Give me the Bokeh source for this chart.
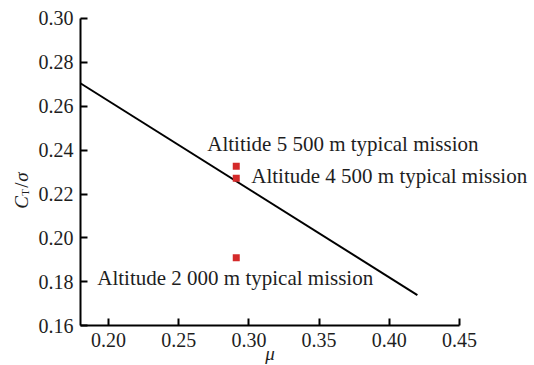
import math
from bokeh.plotting import figure
from bokeh.models import Range1d, FixedTicker, NumeralTickFormatter, Label, LinearAxis
from bokeh.embed import file_html
from bokeh.resources import INLINE

# data
line_mu = [0.18, 0.42]
line_ct = [0.2705, 0.174]
pt_mu = [0.291, 0.291, 0.291]
pt_ct = [0.2327, 0.2272, 0.1910]
labels = ["Altitide 5 500 m typical mission",
          "Altitude 4 500 m typical mission",
          "Altitude 2 000 m typical mission"]
x_ticks = [0.20, 0.25, 0.30, 0.35, 0.40, 0.45]
y_ticks = [0.16, 0.18, 0.20, 0.22, 0.24, 0.26, 0.28, 0.30]

FONT = "Liberation Serif"
TXT = "#1e1e1e"

W, H = 534, 365
# visible data window (whole canvas is the plotting frame, axes sit inside it)
XR = (0.1231, 0.5034)
YR = (0.1419, 0.3082)

p = figure(width=W, height=H, output_backend="svg", toolbar_location=None,
           x_range=Range1d(*XR), y_range=Range1d(*YR),
           x_axis_location=None, y_axis_location=None, min_border=0)
p.outline_line_color = None
p.grid.visible = False
p.background_fill_color = "white"
p.border_fill_color = "white"

xaxis = LinearAxis(fixed_location=y_ticks[0], bounds=(0.18, 0.45),
                   ticker=FixedTicker(ticks=x_ticks))
yaxis = LinearAxis(fixed_location=0.18, bounds=(y_ticks[0], y_ticks[-1]),
                   ticker=FixedTicker(ticks=y_ticks))
for ax in (xaxis, yaxis):
    ax.major_label_text_font = FONT
    ax.major_label_text_font_size = "20px"
    ax.major_label_text_color = TXT
    ax.axis_line_width = 2
    ax.major_tick_line_width = 2
    ax.axis_line_color = "black"
    ax.major_tick_line_color = "black"
    ax.minor_tick_line_color = None
    ax.major_tick_in = 7
    ax.major_tick_out = 0
    ax.formatter = NumeralTickFormatter(format="0.00")
xaxis.major_label_standoff = 7
yaxis.major_label_standoff = 7
p.add_layout(xaxis, "below")
p.add_layout(yaxis, "left")

p.line(line_mu, line_ct, line_color="black", line_width=2)
p.scatter(pt_mu, pt_ct, marker="square", size=7, fill_color="#d42a2a", line_color=None)

# annotations
lab_kw = dict(text_font=FONT, text_font_size="21px", text_color=TXT, text_baseline="middle")
p.add_layout(Label(x=pt_mu[0], y=pt_ct[0], text=labels[0], x_offset=-29, y_offset=22, **lab_kw))
p.add_layout(Label(x=pt_mu[1], y=pt_ct[1], text=labels[1], x_offset=15, y_offset=2, **lab_kw))
p.add_layout(Label(x=pt_mu[2], y=pt_ct[2], text=labels[2], x_offset=-139, y_offset=-20, **lab_kw))

# x axis label (mu), centred on the axis
p.add_layout(Label(x=(0.18 + 0.45) / 2, y=y_ticks[0], y_offset=-28, text="μ",
                   text_align="center", text_baseline="middle", text_font=FONT,
                   text_font_style="italic", text_font_size="19px", text_color=TXT))

# y axis label C_T/sigma, rotated (reads bottom to top)
ylx, yly = 0.18, 0.2147
rot = dict(angle=math.pi / 2, text_baseline="alphabetic", text_color=TXT, text_font=FONT)
p.add_layout(Label(x=ylx, y=yly, x_offset=-59, y_offset=-3, text="C",
                   text_font_style="italic", text_font_size="19px", **rot))
p.add_layout(Label(x=ylx, y=yly, x_offset=-55, y_offset=10, text="T",
                   text_font_size="11px", **rot))
p.add_layout(Label(x=ylx, y=yly, x_offset=-59, y_offset=18, text="/",
                   text_font_size="19px", **rot))
p.add_layout(Label(x=ylx, y=yly, x_offset=-59, y_offset=24, text="σ",
                   text_font_style="italic", text_font_size="19px", **rot))

open("out.html", "w").write(file_html(p, INLINE))
